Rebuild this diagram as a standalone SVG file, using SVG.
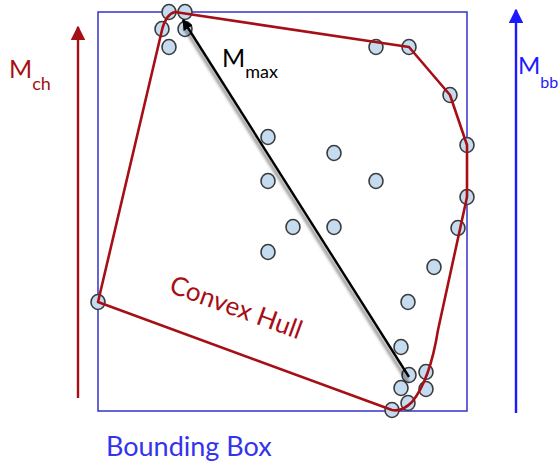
<svg xmlns="http://www.w3.org/2000/svg" width="560" height="466" viewBox="0 0 560 466">
<defs>
<style>
.pt{fill:#c5dcf0;stroke:#3a3a3a;stroke-width:1.6}
.lbl{font-family:Lato,"Open Sans","Liberation Sans",sans-serif}
</style>
<marker id="ahR" viewBox="0 0 10 10" refX="9" refY="5" markerWidth="6" markerHeight="6" orient="auto" markerUnits="strokeWidth"><path d="M0,0L10,5L0,10z" fill="#a50f15"/></marker>
<marker id="ahB" viewBox="0 0 10 10" refX="9" refY="5" markerWidth="6" markerHeight="6" orient="auto" markerUnits="strokeWidth"><path d="M0,0L10,5L0,10z" fill="#1a1aff"/></marker>
<marker id="ahK" viewBox="0 0 10 10" refX="9" refY="5" markerWidth="4.5" markerHeight="4.5" orient="auto" markerUnits="strokeWidth"><path d="M0,0L10,5L0,10z" fill="#000"/></marker>
<filter id="sh" x="-20%" y="-20%" width="140%" height="140%"><feGaussianBlur stdDeviation="1.5"/></filter>
</defs>
<rect width="560" height="466" fill="#fff"/>
<g id="bounding-box"><rect x="98" y="12" width="369" height="399" fill="none" stroke="#3333cc" stroke-width="1.5"/></g>
<g id="points">
<g id="p1"><ellipse class="pt" cx="169" cy="12" rx="7" ry="7.5"/></g>
<g id="p2"><ellipse class="pt" cx="185" cy="12" rx="7" ry="7.5"/></g>
<g id="p3"><ellipse class="pt" cx="162" cy="29" rx="7" ry="7.5"/></g>
<g id="p4"><ellipse class="pt" cx="185" cy="29" rx="7" ry="7.5"/></g>
<g id="p5"><ellipse class="pt" cx="169" cy="47" rx="7" ry="7.5"/></g>
<g id="p6"><ellipse class="pt" cx="376" cy="47" rx="7" ry="7.5"/></g>
<g id="p7"><ellipse class="pt" cx="409" cy="47" rx="7" ry="7.5"/></g>
<g id="p8"><ellipse class="pt" cx="450" cy="95" rx="7" ry="7.5"/></g>
<g id="p9"><ellipse class="pt" cx="467" cy="145" rx="7" ry="7.5"/></g>
<g id="p10"><ellipse class="pt" cx="467" cy="197" rx="7" ry="7.5"/></g>
<g id="p11"><ellipse class="pt" cx="458" cy="228" rx="7" ry="7.5"/></g>
<g id="p12"><ellipse class="pt" cx="434" cy="267" rx="7" ry="7.5"/></g>
<g id="p13"><ellipse class="pt" cx="408" cy="302" rx="7" ry="7.5"/></g>
<g id="p14"><ellipse class="pt" cx="401" cy="347" rx="7" ry="7.5"/></g>
<g id="p15"><ellipse class="pt" cx="409" cy="375" rx="7" ry="7.5"/></g>
<g id="p16"><ellipse class="pt" cx="426" cy="372" rx="7" ry="7.5"/></g>
<g id="p17"><ellipse class="pt" cx="401" cy="388" rx="7" ry="7.5"/></g>
<g id="p18"><ellipse class="pt" cx="426" cy="389" rx="7" ry="7.5"/></g>
<g id="p19"><ellipse class="pt" cx="408" cy="403" rx="7" ry="7.5"/></g>
<g id="p20"><ellipse class="pt" cx="392" cy="410" rx="7" ry="7.5"/></g>
<g id="p21"><ellipse class="pt" cx="98" cy="302" rx="7" ry="7.5"/></g>
<g id="p22"><ellipse class="pt" cx="268" cy="137" rx="7" ry="7.5"/></g>
<g id="p23"><ellipse class="pt" cx="334" cy="153" rx="7" ry="7.5"/></g>
<g id="p24"><ellipse class="pt" cx="268" cy="181" rx="7" ry="7.5"/></g>
<g id="p25"><ellipse class="pt" cx="376" cy="181" rx="7" ry="7.5"/></g>
<g id="p26"><ellipse class="pt" cx="293" cy="227" rx="7" ry="7.5"/></g>
<g id="p27"><ellipse class="pt" cx="334" cy="227" rx="7" ry="7.5"/></g>
<g id="p28"><ellipse class="pt" cx="268" cy="252" rx="7" ry="7.5"/></g>
</g>
<g id="convex-hull"><path d="M98,302 L162,30 Q166,14 175,12 L409,47 L450,95 L467,145 L467,197 L438,330 Q430,380 412,402 Q402,412 392,410 Z" fill="none" stroke="#a50f15" stroke-width="2.6" stroke-linejoin="round"/></g>
<g id="connectors">
<line x1="410" y1="380" x2="186" y2="25" stroke="#000" stroke-opacity="0.45" stroke-width="3" filter="url(#sh)" transform="translate(-2,2)"/>
<line id="m-max" x1="409" y1="377" x2="183" y2="20" stroke="#000" stroke-width="2.4" marker-end="url(#ahK)"/>
<line id="m-ch" x1="78" y1="398" x2="78" y2="27" stroke="#a50f15" stroke-width="2.4" marker-end="url(#ahR)"/>
<line id="m-bb" x1="516" y1="413" x2="516" y2="10" stroke="#1a1aff" stroke-width="2.4" marker-end="url(#ahB)"/>
</g>
<g id="labels" class="lbl">
<text x="222" y="67" font-size="25" fill="#000">M<tspan font-size="18" dy="11">max</tspan></text>
<text x="9" y="78" font-size="25" fill="#a50f15">M<tspan font-size="18" dy="12">ch</tspan></text>
<text x="518" y="74" font-size="24" fill="#1a1aff">M<tspan font-size="16" dy="14">bb</tspan></text>
<text x="106" y="456" font-size="27" fill="#3333ee">Bounding Box</text>
<text transform="translate(168,292) rotate(20)" font-size="26" fill="#a50f15">Convex Hull</text>
</g>
</svg>
